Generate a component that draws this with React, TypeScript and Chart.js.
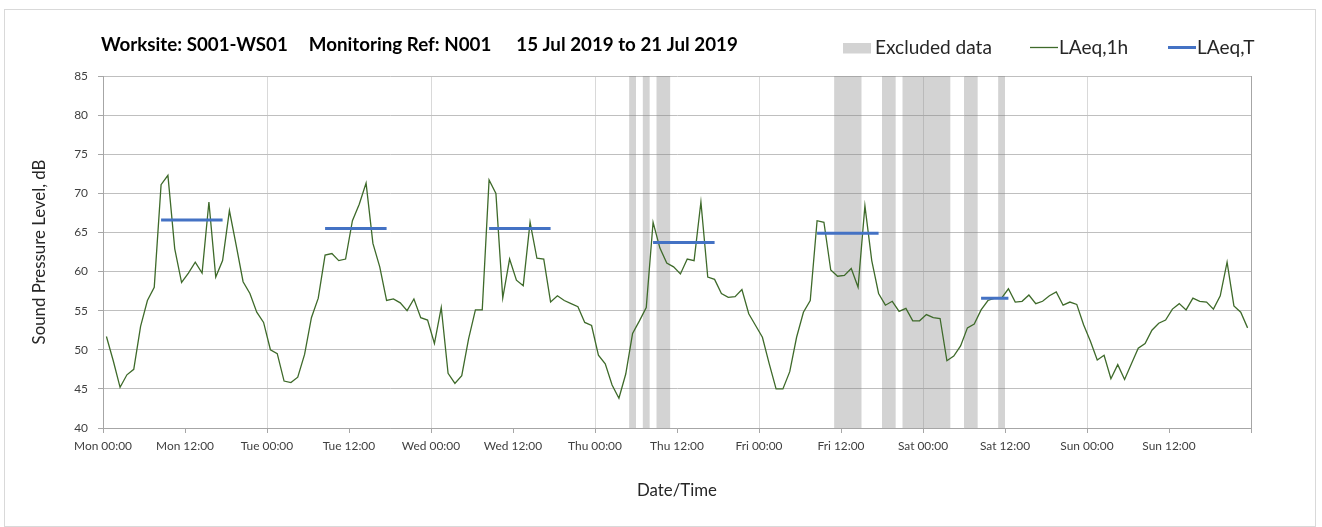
import React, { useEffect, useRef } from 'react';
import { Chart, registerables } from 'chart.js';

Chart.register(...registerables);

const FONT = "Lato, 'Open Sans', 'DejaVu Sans', sans-serif";

// Hourly LAeq,1h values (hour 0 = Mon 00:00, plotted at mid-hour)
const hourlyLAeq: number[] = [
  51.7, 48.6, 45.2, 46.8, 47.5, 53.0, 56.3, 58.0, 71.1, 72.3, 62.9, 58.6,
  59.8, 61.2, 59.8, 68.9, 59.3, 61.4, 67.8, 63.3, 58.7, 57.2, 54.8, 53.5,
  50.0, 49.5, 46.0, 45.8, 46.5, 49.4, 54.1, 56.6, 62.1, 62.3, 61.4, 61.6,
  66.5, 68.6, 71.3, 63.6, 60.6, 56.3, 56.5, 56.0, 55.0, 56.5, 54.1, 53.8,
  50.8, 55.4, 47.0, 45.7, 46.7, 51.4, 55.1, 55.1, 71.7, 70.0, 56.6, 61.6,
  58.9, 58.2, 66.3, 61.7, 61.6, 56.1, 56.9, 56.3, 55.9, 55.5, 53.5, 53.1,
  49.3, 48.2, 45.5, 43.8, 46.9, 52.1, 53.7, 55.4, 66.3, 63.0, 61.1, 60.6,
  59.7, 61.6, 61.4, 68.9, 59.3, 59.0, 57.2, 56.7, 56.8, 57.7, 54.6, 53.1,
  51.6, 48.2, 45.0, 45.0, 47.2, 51.6, 54.8, 56.3, 66.5, 66.3, 60.2, 59.4,
  59.5, 60.4, 58.0, 68.4, 61.4, 57.2, 55.7, 56.2, 54.9, 55.3, 53.7, 53.7,
  54.5, 54.1, 54.0, 48.6, 49.2, 50.5, 52.8, 53.3, 55.1, 56.3, 56.6, 56.6,
  57.8, 56.1, 56.2, 57.0, 55.9, 56.2, 56.9, 57.4, 55.7, 56.1, 55.8, 53.2,
  51.1, 48.7, 49.3, 46.3, 48.1, 46.2, 48.2, 50.2, 50.8, 52.5, 53.4, 53.8,
  55.2, 55.9, 55.1, 56.6, 56.2, 56.1, 55.2, 56.9, 61.2, 55.6, 54.8, 52.8,
];

// LAeq,T periods (first and last hour index of each period) and levels
const laeqTStartHour: number[] = [8, 32, 56, 80, 104, 128];
const laeqTEndHour: number[] = [17, 41, 65, 89, 113, 132];
const laeqTValue: number[] = [66.6, 65.5, 65.5, 63.7, 64.9, 56.6];

// Hours flagged as excluded data
const excludedHours: number[] = [
  77, 79, 81, 82, 107, 108, 109, 110, 114, 115,
  117, 118, 119, 120, 121, 122, 123, 126, 127, 131,
];

const dayNames: string[] = ['Mon', 'Tue', 'Wed', 'Thu', 'Fri', 'Sat', 'Sun'];
const titleParts: string[] = ['Worksite: S001-WS01', 'Monitoring Ref: N001', '15 Jul 2019 to 21 Jul 2019'];
const legendLabels: string[] = ['Excluded data', 'LAeq,1h', 'LAeq,T'];
const yAxisTitle = 'Sound Pressure Level, dB';
const xAxisTitle = 'Date/Time';
const yMin = 40;
const yMax = 85;
const yStep = 5;
const xMaxHour = 168;
const xStepHour = 12;

const GREEN = '#3e6a2a';
const BLUE = '#4472C4';
const BAND = 'rgba(128,128,128,0.35)';

function fitFontSize(texts: string[], weight: string, target: number): number {
  const c = document.createElement('canvas').getContext('2d') as CanvasRenderingContext2D;
  c.font = `${weight} 100px ${FONT}`;
  const w = texts.reduce((s, t) => s + c.measureText(t).width, 0);
  return (100 * target) / w;
}

export default function App() {
  const ref = useRef<HTMLCanvasElement>(null);

  useEffect(() => {
    const canvas = ref.current as HTMLCanvasElement;

    const tickSize = fitFontSize(['Mon 00:00'], 'normal', 58);
    const axisTitleSize = fitFontSize([yAxisTitle], 'normal', 185);
    const legendSize = fitFontSize([legendLabels[0]], 'normal', 117);
    const titleGaps = [21, 25];
    const titleTarget = 637 - titleGaps[0] - titleGaps[1];

    const lineData = hourlyLAeq.map((v, i) => ({ x: i + 0.5, y: v }));

    const laeqTData: any[] = [];
    laeqTValue.forEach((v, k) => {
      laeqTData.push({ x: laeqTStartHour[k] + 0.5, y: v });
      laeqTData.push({ x: laeqTEndHour[k] + 0.5, y: v });
      laeqTData.push({ x: laeqTEndHour[k] + 1, y: null });
    });

    const excludedSet = new Set(excludedHours);
    const excludedData: any[] = [];
    for (let h = 0; h <= xMaxHour; h++) {
      excludedData.push({ x: h, y: excludedSet.has(h) ? yMax : yMin });
    }

    const headerPlugin = {
      id: 'header',
      afterDraw(chart: any) {
        const ctx = chart.ctx as CanvasRenderingContext2D;
        ctx.save();
        ctx.textAlign = 'left';
        ctx.textBaseline = 'alphabetic';
        ctx.fillStyle = '#000';
        // fit title size to the reference extent using the live context
        ctx.font = `bold 100px ${FONT}`;
        const base = titleParts.reduce((s, t) => s + ctx.measureText(t).width, 0);
        const titleSize = (100 * titleTarget) / base;
        ctx.font = `bold ${titleSize}px ${FONT}`;
        let tx = 96;
        titleParts.forEach((t, i) => {
          ctx.fillText(t, tx, 41);
          tx += ctx.measureText(t).width + (titleGaps[i] || 0);
        });

        // legend
        ctx.font = `${legendSize}px ${FONT}`;
        ctx.fillStyle = BAND;
        ctx.fillRect(838, 33, 28, 10.5);
        ctx.fillStyle = '#262626';
        ctx.fillText(legendLabels[0], 870, 44);

        ctx.strokeStyle = GREEN;
        ctx.lineWidth = 1.3;
        ctx.beginPath();
        ctx.moveTo(1025, 37.5);
        ctx.lineTo(1053, 37.5);
        ctx.stroke();
        ctx.fillText(legendLabels[1], 1054, 44);

        ctx.strokeStyle = BLUE;
        ctx.lineWidth = 3;
        ctx.beginPath();
        ctx.moveTo(1163, 37.5);
        ctx.lineTo(1191, 37.5);
        ctx.stroke();
        ctx.fillText(legendLabels[2], 1192, 44);
        ctx.restore();
      },
    };

    const chart = new Chart(canvas, {
      type: 'line',
      data: {
        datasets: [
          {
            label: legendLabels[2],
            data: laeqTData,
            borderColor: BLUE,
            borderWidth: 3,
            pointRadius: 0,
            spanGaps: false,
            fill: false,
            order: 1,
          },
          {
            label: legendLabels[1],
            data: lineData,
            borderColor: GREEN,
            borderWidth: 1.3,
            pointRadius: 0,
            tension: 0,
            fill: false,
            order: 2,
          },
          {
            label: legendLabels[0],
            data: excludedData,
            borderColor: 'rgba(0,0,0,0)',
            borderWidth: 0,
            backgroundColor: BAND,
            pointRadius: 0,
            stepped: 'before',
            fill: 'start',
            order: 3,
          },
        ] as any,
      },
      options: {
        responsive: false,
        devicePixelRatio: 1,
        animation: false,
        events: [],
        layout: { padding: { left: 0, right: 64, top: 66, bottom: 0 } },
        plugins: {
          legend: { display: false },
          tooltip: { enabled: false },
          title: { display: false },
        },
        scales: {
          x: {
            type: 'linear',
            min: 0,
            max: xMaxHour,
            afterFit: (s: any) => {
              s.height = 98;
            },
            ticks: {
              stepSize: xStepHour,
              maxTicksLimit: 30,
              autoSkip: false,
              maxRotation: 0,
              minRotation: 0,
              padding: 6,
              color: '#404040',
              font: { family: FONT, size: tickSize },
              callback: (value: any) => {
                const v = Number(value);
                if (v >= xMaxHour) return '';
                const d = dayNames[Math.floor(v / 24)];
                const hh = String(v % 24).padStart(2, '0');
                return `${d} ${hh}:00`;
              },
            },
            grid: {
              color: (c: any) => {
                const v = c.tick ? c.tick.value : undefined;
                if (v === undefined) return 'rgba(0,0,0,0)';
                if (v === xMaxHour) return '#a6a6a6';
                return v % 24 === 0 ? '#d9d9d9' : 'rgba(0,0,0,0)';
              },
              tickColor: '#a6a6a6',
              tickLength: 5,
              lineWidth: 1,
            },
            border: { color: '#a6a6a6', width: 1 },
            title: {
              display: true,
              text: xAxisTitle,
              color: '#262626',
              font: { family: FONT, size: axisTitleSize },
              padding: { top: 0, bottom: 35 - axisTitleSize * 0.6 },
            },
          },
          y: {
            type: 'linear',
            min: yMin,
            max: yMax,
            afterFit: (s: any) => {
              s.width = 98;
            },
            ticks: {
              stepSize: yStep,
              padding: 10,
              color: '#404040',
              font: { family: FONT, size: tickSize },
            },
            grid: {
              color: '#bfbfbf',
              tickColor: '#a6a6a6',
              tickLength: 5,
              lineWidth: 1,
            },
            border: { color: '#a6a6a6', width: 1 },
            title: {
              display: true,
              text: yAxisTitle,
              color: '#262626',
              font: { family: FONT, size: axisTitleSize },
              padding: { top: 35 - axisTitleSize * 0.6, bottom: 0 },
            },
          },
        },
      } as any,
      plugins: [headerPlugin],
    });

    return () => chart.destroy();
  }, []);

  return (
    <div
      style={{
        position: 'absolute',
        left: 4,
        top: 9,
        width: 1312,
        height: 518,
        border: '1px solid #d9d9d9',
        boxSizing: 'border-box',
        background: '#fff',
      }}
    >
      <canvas ref={ref} width={1310} height={516} style={{ display: 'block', width: 1310, height: 516 }} />
    </div>
  );
}
